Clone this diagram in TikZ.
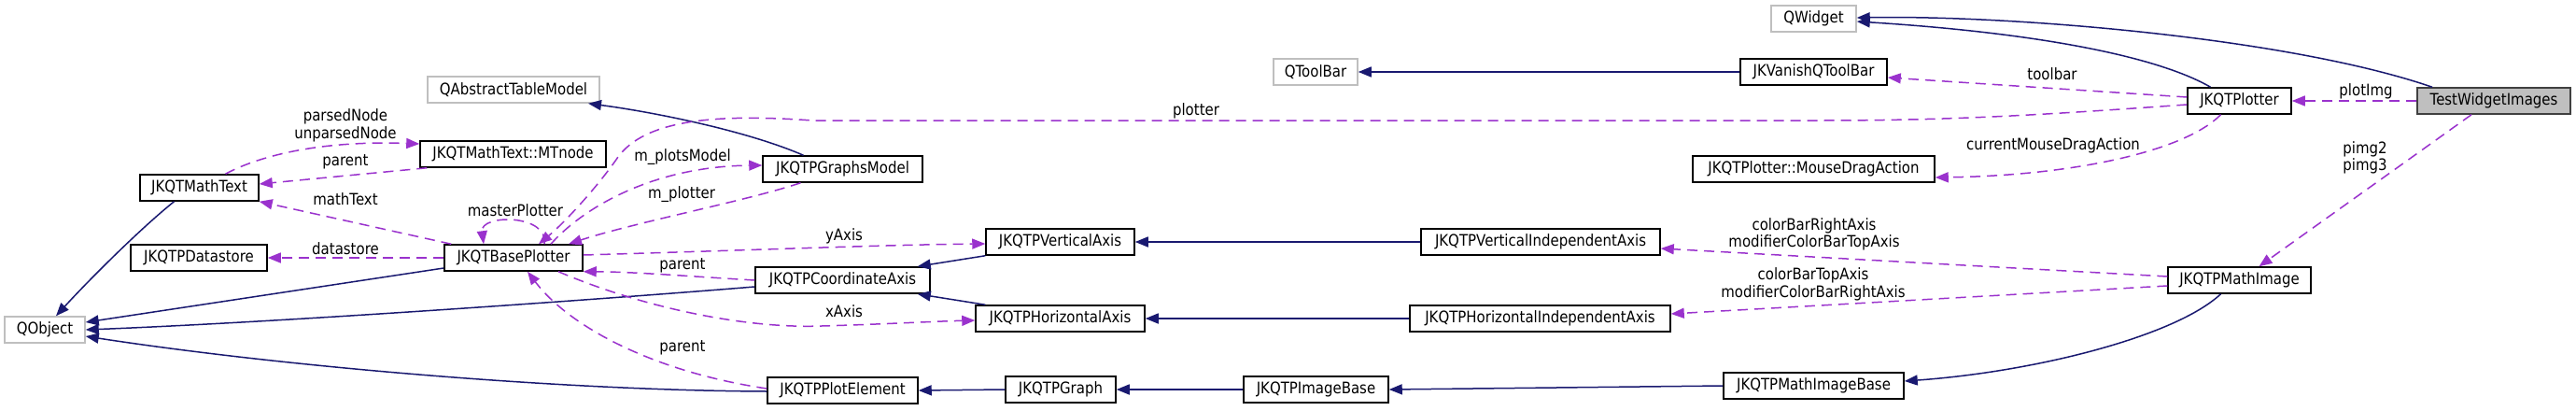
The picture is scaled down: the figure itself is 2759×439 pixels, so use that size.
\documentclass[tikz,border=0pt]{standalone}
\usepackage{fontspec}
\setmainfont{DejaVu Sans}[FakeStretch=0.88]
\usetikzlibrary{arrows.meta}
\definecolor{edgeblue}{HTML}{191970}
\definecolor{edgepurple}{HTML}{9A32CD}
\definecolor{extgrey}{HTML}{BFBFBF}
\definecolor{curfill}{HTML}{BFBFBF}
\begin{document}
\begin{tikzpicture}[x=1pt,y=-1pt,
 font=\fontsize{17}{18.5}\selectfont,
 cls/.style={draw=black, line width=1.5pt, minimum height=28pt, inner sep=0pt},
 ext/.style={draw=extgrey, line width=1.5pt, minimum height=28pt, inner sep=0pt},
 cur/.style={cls, fill=curfill, draw=black!75},
 inhedge/.style={draw=edgeblue, line width=1.5pt, -{Triangle[length=14pt,width=11pt]}},
 useedge/.style={draw=edgepurple, line width=1.5pt, dash pattern=on 11pt off 7pt, -{Triangle[length=14pt,width=11pt]}},
 lbl/.style={inner sep=0pt, align=center}]
\path[use as bounding box, fill=white] (0,0) rectangle (2759,439);

% nodes
\node[ext, minimum width=91pt] (qwidget) at (1942.5,20) {QWidget};
\node[ext, minimum width=90pt] (qtoolbar) at (1409,77) {QToolBar};
\node[cls, minimum width=157pt] (vanish) at (1942.5,77) {JKVanishQToolBar};
\node[ext, minimum width=184pt] (qatm) at (550,96) {QAbstractTableModel};
\node[cls, minimum width=111pt] (plt) at (2398.5,108) {JKQTPlotter};
\node[cur, minimum width=164pt] (twi) at (2671,108) {TestWidgetImages};
\node[cls, minimum width=199pt] (mtnode) at (549.5,165) {JKQTMathText::MTnode};
\node[cls, minimum width=127pt] (mathtext) at (213.5,201) {JKQTMathText};
\node[cls, minimum width=171pt] (gmodel) at (902.5,181) {JKQTPGraphsModel};
\node[cls, minimum width=259pt] (mdrag) at (1942.5,181) {JKQTPlotter::MouseDragAction};
\node[cls, minimum width=146pt] (datastore) at (213,276) {JKQTPDatastore};
\node[cls, minimum width=148pt] (base) at (550,276) {JKQTBasePlotter};
\node[cls, minimum width=159pt] (vaxis) at (1135.5,259) {JKQTPVerticalAxis};
\node[cls, minimum width=256pt] (viaxis) at (1650,259) {JKQTPVerticalIndependentAxis};
\node[cls, minimum width=187pt] (caxis) at (902.5,300) {JKQTPCoordinateAxis};
\node[cls, minimum width=153pt] (mimage) at (2398.5,300) {JKQTPMathImage};
\node[cls, minimum width=181pt] (haxis) at (1135.5,341) {JKQTPHorizontalAxis};
\node[cls, minimum width=279pt] (hiaxis) at (1649.5,341) {JKQTPHorizontalIndependentAxis};
\node[ext, minimum width=86pt] (qobject) at (48,353) {QObject};
\node[cls, minimum width=161pt] (pelem) at (902.5,418) {JKQTPPlotElement};
\node[cls, minimum width=118pt] (graph) at (1136,417) {JKQTPGraph};
\node[cls, minimum width=155pt] (ibase) at (1409.5,417) {JKQTPImageBase};
\node[cls, minimum width=193pt] (mibase) at (1942.5,413) {JKQTPMathImageBase};

% inheritance edges
\draw[inhedge] ([xshift=-31pt]plt.north) .. controls (2310,60) and (2180,35) .. ([yshift=-3pt]qwidget.east);
\draw[inhedge] ([xshift=-66pt]twi.north) .. controls (2450,40) and (2150,16) .. ([yshift=1pt]qwidget.east);
\draw[inhedge] (vanish.west) -- (qtoolbar.east);
\draw[inhedge] ([xshift=-42pt]gmodel.north) .. controls (800,140) and (700,120) .. ([xshift=80pt]qatm.south);
\draw[inhedge] ([xshift=-27pt]mathtext.south) .. controls (150,245) and (95,300) .. ([xshift=12pt]qobject.north);
\draw[inhedge] ([yshift=-11pt]base.west) -- ([yshift=8pt]qobject.east);
\draw[inhedge] ([yshift=-7pt]caxis.west) .. controls (650,320) and (300,345) .. (qobject.east);
\draw[inhedge] ([yshift=-1pt]pelem.west) .. controls (600,418) and (300,392) .. ([yshift=-7pt]qobject.east);
\draw[inhedge] (vaxis.south west) -- ([xshift=-14pt]caxis.north east);
\draw[inhedge] ([xshift=11pt]haxis.north west) -- ([xshift=-14pt]caxis.south east);
\draw[inhedge] (viaxis.west) -- (vaxis.east);
\draw[inhedge] (hiaxis.west) -- (haxis.east);
\draw[inhedge] (graph.west) -- (pelem.east);
\draw[inhedge] (ibase.west) -- (graph.east);
\draw[inhedge] (mibase.west) -- (ibase.east);
\draw[inhedge] ([xshift=-20pt]mimage.south) .. controls (2330,360) and (2180,398) .. ([yshift=5pt]mibase.east);

% usage edges
\draw[useedge] ([xshift=28pt]mathtext.north) .. controls (275,168) and (340,150) .. ([yshift=11pt]mtnode.west);
\draw[useedge] ([xshift=8pt]mtnode.south west) -- ([yshift=4pt]mathtext.east);
\draw[useedge] ([xshift=8pt]base.north west) -- (mathtext.south east);
\draw[useedge] (base.west) -- (datastore.east);
\draw[useedge] ([xshift=33pt]base.north) .. controls (588,229) and (514,229) .. ([xshift=-32pt]base.north);
\draw[useedge] ([yshift=-4pt]plt.west) .. controls (2200,122) and (2100,129) .. (1950,129) -- (870,129)
   .. controls (760,121) and (690,130) .. (662,168) .. controls (640,200) and (605,238) .. ([xshift=27pt]base.north);
\draw[useedge] ([xshift=40pt]base.north) .. controls (625,222) and (700,178) .. ([yshift=4pt]gmodel.west);
\draw[useedge] ([xshift=-45pt]gmodel.south) .. controls (800,215) and (680,238) .. ([xshift=59pt]base.north);
\draw[useedge] ([yshift=3pt]base.east) .. controls (800,268) and (950,262) .. ([yshift=-2pt]vaxis.west);
\draw[useedge] (caxis.west) .. controls (740,296) and (680,291) .. (base.south east);
\draw[useedge] ([xshift=48pt]base.south) .. controls (690,330) and (800,352) .. (880,349) .. controls (950,347) and (1000,344) .. ([yshift=-2pt]haxis.west);
\draw[useedge] ([yshift=2pt]pelem.west) .. controls (700,398) and (610,350) .. ([xshift=15pt]base.south);
\draw[useedge] ([yshift=4pt]plt.west) -- ([yshift=-6pt]vanish.east);
\draw[useedge] ([xshift=-20pt]plt.south) .. controls (2340,162) and (2220,188) .. ([yshift=-9pt]mdrag.east);
\draw[useedge] (twi.west) -- (plt.east);
\draw[useedge] ([xshift=-24pt]twi.south) -- ([xshift=21pt]mimage.north);
\draw[useedge] ([yshift=4pt]mimage.west) -- ([yshift=-7pt]viaxis.east);
\draw[useedge] ([yshift=-6pt]mimage.west) -- ([yshift=5pt]hiaxis.east);

% labels
\node[lbl] (l-parsed) at (370,134.5) {parsedNode\\unparsedNode};
\node[lbl] (l-parent1) at (370,173) {parent};
\node[lbl] (l-mathtext) at (370,213) {mathText};
\node[lbl] (l-master) at (552,225) {masterPlotter};
\node[lbl] (l-datastore) at (370,266) {datastore};
\node[lbl] (l-plotsmodel) at (731,168) {m\_plotsModel};
\node[lbl] (l-mplotter) at (730,208) {m\_plotter};
\node[lbl] (l-plotter) at (1281,119) {plotter};
\node[lbl] (l-yaxis) at (904,253) {yAxis};
\node[lbl] (l-parent2) at (731,284) {parent};
\node[lbl] (l-xaxis) at (904,333) {xAxis};
\node[lbl] (l-parent3) at (731,372) {parent};
\node[lbl] (l-toolbar) at (2198,79) {toolbar};
\node[lbl] (l-plotimg) at (2534,98) {plotImg};
\node[lbl] (l-drag) at (2199,156) {currentMouseDragAction};
\node[lbl] (l-pimg) at (2533,169) {pimg2\\pimg3};
\node[lbl] (l-cbright) at (1943,251) {colorBarRightAxis\\modifierColorBarTopAxis};
\node[lbl] (l-cbtop) at (1942,304.5) {colorBarTopAxis\\modifierColorBarRightAxis};
\end{tikzpicture}
\end{document}
